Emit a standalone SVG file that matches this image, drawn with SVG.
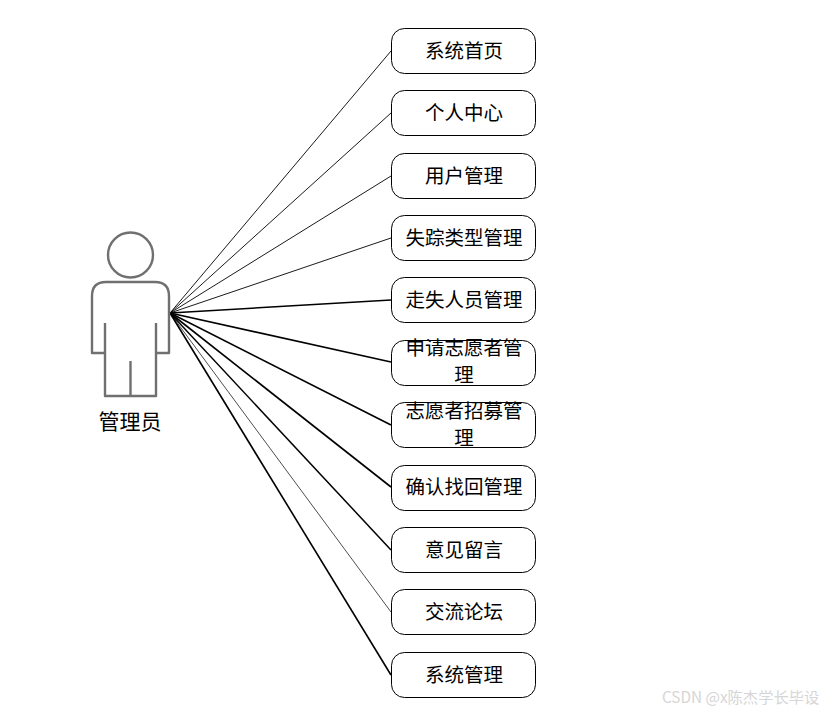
<svg xmlns="http://www.w3.org/2000/svg" width="829" height="713" viewBox="0 0 829 713">
<style>
.n{fill:#fff;stroke:#000;stroke-width:1}
.t{font-family:"Noto Sans CJK SC","Liberation Sans",sans-serif;font-size:19.5px;fill:#000;text-anchor:middle}
.a{fill:none;stroke:#707070;stroke-width:2.4;stroke-linejoin:round}
.c line{stroke:#000}
</style>
<rect width="829" height="713" fill="#fff"/>
<g id="connectors" class="c">
<line x1="170" y1="313" x2="391" y2="51" stroke-width="0.9"/>
<line x1="170" y1="313" x2="391" y2="113" stroke-width="0.9"/>
<line x1="170" y1="313" x2="391" y2="176" stroke-width="0.9"/>
<line x1="170" y1="313" x2="391" y2="238" stroke-width="0.9"/>
<line x1="170" y1="313" x2="391" y2="300" stroke-width="1.6"/>
<line x1="170" y1="313" x2="391" y2="362" stroke-width="1.6"/>
<line x1="170" y1="313" x2="391" y2="425" stroke-width="1.6"/>
<line x1="170" y1="313" x2="391" y2="487" stroke-width="1.6"/>
<line x1="170" y1="313" x2="391" y2="550" stroke-width="1.5"/>
<line x1="170" y1="313" x2="391" y2="612" stroke-width="0.7"/>
<line x1="170" y1="313" x2="391" y2="675" stroke-width="1.6"/>
</g>
<g id="actor">
<circle class="a" cx="130.500" cy="255" r="22.500"/>
<path class="a" d="M105 353H92V296Q92 282 106 282H155Q169 282 169 296V353H156M105 323V396H156V323M130.500 361V396"/>
<text class="t" x="130" y="429" style="font-size:21px">管理员</text>
</g>
<g id="n1"><rect class="n" x="391.500" y="28.500" width="144" height="45" rx="13"/><text class="t" x="464" y="58">系统首页</text></g>
<g id="n2"><rect class="n" x="391.500" y="90.500" width="144" height="45" rx="13"/><text class="t" x="464" y="120">个人中心</text></g>
<g id="n3"><rect class="n" x="391.500" y="153.500" width="144" height="45" rx="13"/><text class="t" x="464" y="183">用户管理</text></g>
<g id="n4"><rect class="n" x="391.500" y="215.500" width="144" height="45" rx="13"/><text class="t" x="464" y="245">失踪类型管理</text></g>
<g id="n5"><rect class="n" x="391.500" y="277.500" width="144" height="45" rx="13"/><text class="t" x="464" y="307">走失人员管理</text></g>
<g id="n6"><rect class="n" x="391.500" y="340.500" width="144" height="45" rx="13"/><text class="t" x="464" y="355">申请志愿者管</text><text class="t" x="464" y="382">理</text></g>
<g id="n7"><rect class="n" x="391.500" y="402.500" width="144" height="45" rx="13"/><text class="t" x="464" y="417.500">志愿者招募管</text><text class="t" x="464" y="444.500">理</text></g>
<g id="n8"><rect class="n" x="391.500" y="465.500" width="144" height="45" rx="13"/><text class="t" x="464" y="494">确认找回管理</text></g>
<g id="n9"><rect class="n" x="391.500" y="527.500" width="144" height="45" rx="13"/><text class="t" x="464" y="557">意见留言</text></g>
<g id="n10"><rect class="n" x="391.500" y="589.500" width="144" height="45" rx="13"/><text class="t" x="464" y="619">交流论坛</text></g>
<g id="n11"><rect class="n" x="391.500" y="652.500" width="144" height="45" rx="13"/><text class="t" x="464" y="682">系统管理</text></g>
<text x="662" y="703" font-family="'Noto Sans CJK SC','Liberation Sans',sans-serif" font-size="15.300" fill="#d6d6d6">CSDN @x陈杰学长毕设</text>
</svg>
